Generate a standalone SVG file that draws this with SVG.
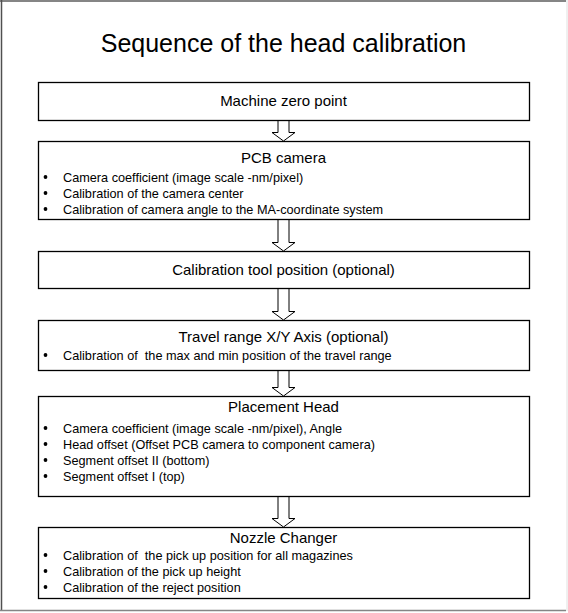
<svg xmlns="http://www.w3.org/2000/svg" width="568" height="613" viewBox="0 0 568 613">
<style>
.box{fill:#fff;stroke:#000;stroke-width:1.3}
.arr{fill:#fff;stroke:#000;stroke-width:1}
.t{font-family:"Liberation Sans",Arial,sans-serif;fill:#000;white-space:pre}
.title{font-size:25px;text-anchor:middle}
.h{font-size:15px;text-anchor:middle}
.b{font-size:12.7px}
.dot{fill:#000}
</style>
<rect x="0" y="0" width="568" height="613" fill="#fff"/>
<g id="frame">
<line x1="0" y1="1" x2="566" y2="1" stroke="#858585" stroke-width="2"/>
<line x1="1.5" y1="0" x2="1.5" y2="611" stroke="#505050" stroke-width="1.5"/>
<line x1="0" y1="610.5" x2="566" y2="610.5" stroke="#858585" stroke-width="1.5"/>
<line x1="567" y1="0" x2="567" y2="611" stroke="#e0e0e0" stroke-width="1"/>
</g>
<text class="t title" x="283.5" y="52">Sequence of the head calibration</text>
<g id="connectors">
<path class="arr" d="M278,120.5 V132.5 H272 L283.5,141 L295,132.5 H289 V120.5 Z"/>
<path class="arr" d="M278,219.5 V242.5 H272 L283.5,251 L295,242.5 H289 V219.5 Z"/>
<path class="arr" d="M278,288.5 V311.5 H272 L283.5,320 L295,311.5 H289 V288.5 Z"/>
<path class="arr" d="M278,370.5 V387.5 H272 L283.5,396 L295,387.5 H289 V370.5 Z"/>
<path class="arr" d="M278,496.5 V518.5 H272 L283.5,527 L295,518.5 H289 V496.5 Z"/>
</g>
<g id="n1">
<rect class="box" x="38.5" y="82.5" width="491" height="38"/>
<text class="t h" x="283.5" y="106">Machine zero point</text>
</g>
<g id="n2">
<rect class="box" x="38.5" y="141.5" width="491" height="78"/>
<text class="t h" x="283.5" y="163">PCB camera</text>
<circle class="dot" cx="45.5" cy="177" r="1.9"/>
<circle class="dot" cx="45.5" cy="193" r="1.9"/>
<circle class="dot" cx="45.5" cy="209" r="1.9"/>
<text class="t b" x="63" y="181.5">Camera coefficient (image scale -nm/pixel)</text>
<text class="t b" x="63" y="197.5">Calibration of the camera center</text>
<text class="t b" x="63" y="213.5">Calibration of camera angle to the MA-coordinate system</text>
</g>
<g id="n3">
<rect class="box" x="38.5" y="251.5" width="491" height="37"/>
<text class="t h" x="283.5" y="275">Calibration tool position (optional)</text>
</g>
<g id="n4">
<rect class="box" x="38.5" y="320.5" width="491" height="50"/>
<text class="t h" x="283.5" y="342">Travel range X/Y Axis (optional)</text>
<circle class="dot" cx="45.5" cy="355" r="1.9"/>
<text class="t b" x="63" y="359.5">Calibration of  the max and min position of the travel range</text>
</g>
<g id="n5">
<rect class="box" x="38.5" y="396.5" width="491" height="100"/>
<text class="t h" x="283.5" y="412">Placement Head</text>
<circle class="dot" cx="45.5" cy="428" r="1.9"/>
<circle class="dot" cx="45.5" cy="444" r="1.9"/>
<circle class="dot" cx="45.5" cy="460" r="1.9"/>
<circle class="dot" cx="45.5" cy="476" r="1.9"/>
<text class="t b" x="63" y="432.5">Camera coefficient (image scale -nm/pixel), Angle</text>
<text class="t b" x="63" y="448.5">Head offset (Offset PCB camera to component camera)</text>
<text class="t b" x="63" y="464.5">Segment offset II (bottom)</text>
<text class="t b" x="63" y="480.5">Segment offset I (top)</text>
</g>
<g id="n6">
<rect class="box" x="38.5" y="527.5" width="491" height="71"/>
<text class="t h" x="283.5" y="543">Nozzle Changer</text>
<circle class="dot" cx="45.5" cy="555" r="1.9"/>
<circle class="dot" cx="45.5" cy="571" r="1.9"/>
<circle class="dot" cx="45.5" cy="587" r="1.9"/>
<text class="t b" x="63" y="559.5">Calibration of  the pick up position for all magazines</text>
<text class="t b" x="63" y="575.5">Calibration of the pick up height</text>
<text class="t b" x="63" y="591.5">Calibration of the reject position</text>
</g>
</svg>
